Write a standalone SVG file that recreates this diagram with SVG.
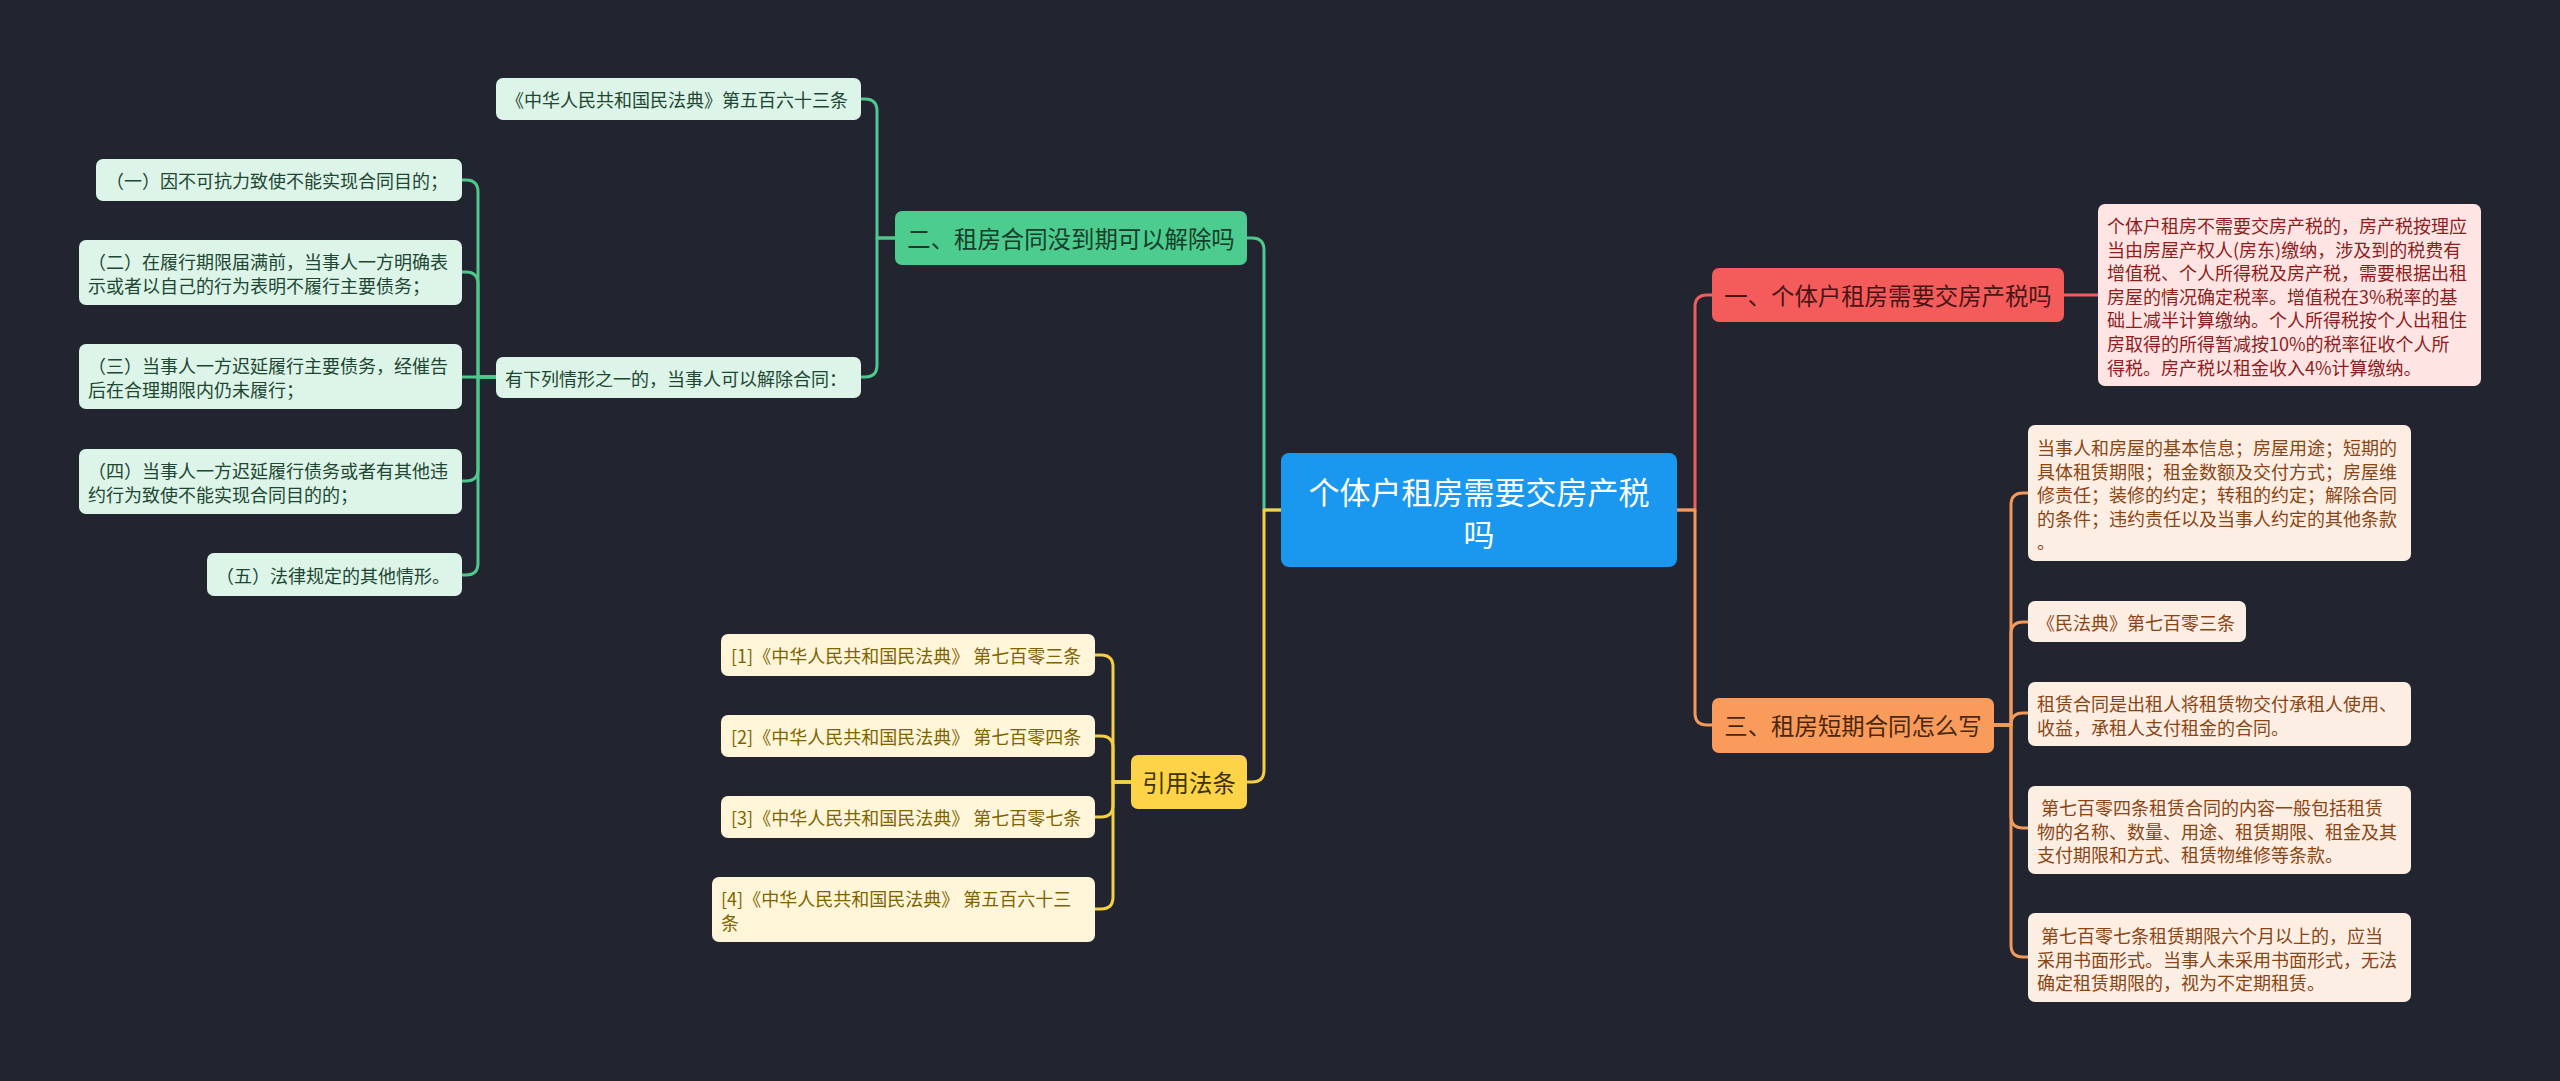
<svg xmlns="http://www.w3.org/2000/svg" width="2560" height="1081" viewBox="0 0 2560 1081">
<style>
text{font-family:"Noto Sans CJK SC","Noto Sans",sans-serif;dominant-baseline:central}
.c{fill:none;stroke-width:3;stroke-linecap:round;stroke-linejoin:round}
.cg{stroke:#4fc88e}.cy{stroke:#f5cf45}.cr{stroke:#ee5e5e}.co{stroke:#f19a5c}
.root rect{fill:#1a97ee}
.root text{fill:#ffffff;font-size:31px;text-anchor:middle}
.l1 text{font-size:23.4px;text-anchor:middle}
.red rect{fill:#f45c5c}.red text{fill:#4a1414}
.org rect{fill:#f99b5b}.org text{fill:#4a2610}
.grn rect{fill:#4ccc8e}.grn text{fill:#163d2a}
.yel rect{fill:#fdd447}.yel text{fill:#3e3200}
.d text{font-size:18px}
.dr rect{fill:#ffe4e4}.dr text{fill:#8c1e1e}
.do rect{fill:#fdeee3}.do text{fill:#8a4514}
.dg rect{fill:#dcf5e8}.dg text{fill:#1e4632}
.dy rect{fill:#fff6da}.dy text{fill:#7d6400}
</style>
<rect width="2560" height="1081" fill="#222530"/>
<g id="connectors">
<path class="c cg" d="M1282,510 H1264 V250 Q1264,238 1252,238 H1247"/>
<path class="c cy" d="M1282,510 H1264 V770 Q1264,782 1252,782 H1247"/>
<path class="c cr" d="M1677,510 H1695 V307 Q1695,295 1707,295 H1712"/>
<path class="c co" d="M1677,510 H1695 V713 Q1695,725 1707,725 H1712"/>
<path class="c cg" d="M895,238 H877 V111 Q877,99 865,99 H861"/>
<path class="c cg" d="M895,238 H877 V365 Q877,377 865,377 H861"/>
<path class="c cg" d="M496,377 H478 V192 Q478,180 466,180 H462"/>
<path class="c cg" d="M496,377 H478 V284 Q478,272 466,272 H462"/>
<path class="c cg" d="M496,377 H462"/>
<path class="c cg" d="M496,377 H478 V469 Q478,481 466,481 H462"/>
<path class="c cg" d="M496,377 H478 V563 Q478,575 466,575 H462"/>
<path class="c cy" d="M1131,782 H1113 V667 Q1113,655 1101,655 H1095"/>
<path class="c cy" d="M1131,782 H1113 V748 Q1113,736 1101,736 H1095"/>
<path class="c cy" d="M1131,782 H1113 V805 Q1113,817 1101,817 H1095"/>
<path class="c cy" d="M1131,782 H1113 V897 Q1113,909 1101,909 H1095"/>
<path class="c cr" d="M2064,295 H2098"/>
<path class="c co" d="M1994,725 H2011 V505 Q2011,493 2023,493 H2028"/>
<path class="c co" d="M1994,725 H2011 V634 Q2011,622 2023,622 H2028"/>
<path class="c co" d="M1994,725 H2011 Q2011,713 2023,713 H2028"/>
<path class="c co" d="M1994,725 H2011 V816 Q2011,828 2023,828 H2028"/>
<path class="c co" d="M1994,725 H2011 V945 Q2011,957 2023,957 H2028"/>
</g>
<g id="root" class="root">
<rect x="1281" y="453" width="396" height="114" rx="8"/>
<text x="1479" y="490">个体户租房需要交房产税</text>
<text x="1479" y="532">吗</text>
</g>
<g id="n1" class="l1 red">
<rect x="1712" y="268" width="352" height="54" rx="7"/>
<text x="1888" y="295">一、个体户租房需要交房产税吗</text>
</g>
<g id="n1a" class="d dr">
<rect x="2098" y="204" width="383" height="182" rx="7"/>
<text x="2107" y="225">个体户租房不需要交房产税的，房产税按理应</text>
<text x="2107" y="248.6">当由房屋产权人(房东)缴纳，涉及到的税费有</text>
<text x="2107" y="272.2">增值税、个人所得税及房产税，需要根据出租</text>
<text x="2107" y="295.8">房屋的情况确定税率。增值税在3%税率的基</text>
<text x="2107" y="319.4">础上减半计算缴纳。个人所得税按个人出租住</text>
<text x="2107" y="343">房取得的所得暂减按10%的税率征收个人所</text>
<text x="2107" y="366.6">得税。房产税以租金收入4%计算缴纳。</text>
</g>
<g id="n3" class="l1 org">
<rect x="1712" y="698" width="282" height="55" rx="7"/>
<text x="1853" y="725">三、租房短期合同怎么写</text>
</g>
<g id="n3a" class="d do">
<rect x="2028" y="425" width="383" height="136" rx="7"/>
<text x="2037" y="447">当事人和房屋的基本信息；房屋用途；短期的</text>
<text x="2037" y="470.5">具体租赁期限；租金数额及交付方式；房屋维</text>
<text x="2037" y="494">修责任；装修的约定；转租的约定；解除合同</text>
<text x="2037" y="517.5">的条件；违约责任以及当事人约定的其他条款</text>
<text x="2037" y="541">。</text>
</g>
<g id="n3b" class="d do">
<rect x="2028" y="601" width="218" height="41" rx="7"/>
<text x="2037" y="621.5">《民法典》第七百零三条</text>
</g>
<g id="n3c" class="d do">
<rect x="2028" y="682" width="383" height="64" rx="7"/>
<text x="2037" y="703">租赁合同是出租人将租赁物交付承租人使用、</text>
<text x="2037" y="726.5">收益，承租人支付租金的合同。</text>
</g>
<g id="n3d" class="d do">
<rect x="2028" y="786" width="383" height="88" rx="7"/>
<text x="2037" y="807" xml:space="preserve"> 第七百零四条租赁合同的内容一般包括租赁</text>
<text x="2037" y="830.5">物的名称、数量、用途、租赁期限、租金及其</text>
<text x="2037" y="854">支付期限和方式、租赁物维修等条款。</text>
</g>
<g id="n3e" class="d do">
<rect x="2028" y="913" width="383" height="89" rx="7"/>
<text x="2037" y="935" xml:space="preserve"> 第七百零七条租赁期限六个月以上的，应当</text>
<text x="2037" y="958.5">采用书面形式。当事人未采用书面形式，无法</text>
<text x="2037" y="982">确定租赁期限的，视为不定期租赁。</text>
</g>
<g id="n2" class="l1 grn">
<rect x="895" y="211" width="352" height="54" rx="7"/>
<text x="1071" y="238">二、租房合同没到期可以解除吗</text>
</g>
<g id="n2a" class="d dg">
<rect x="496" y="78" width="365" height="42" rx="7"/>
<text x="506" y="99">《中华人民共和国民法典》第五百六十三条</text>
</g>
<g id="n2b" class="d dg">
<rect x="496" y="357" width="365" height="41" rx="7"/>
<text x="505" y="377.5">有下列情形之一的，当事人可以解除合同：</text>
</g>
<g id="n2b1" class="d dg">
<rect x="96" y="159" width="366" height="42" rx="7"/>
<text x="106" y="180">（一）因不可抗力致使不能实现合同目的；</text>
</g>
<g id="n2b2" class="d dg">
<rect x="79" y="240" width="383" height="65" rx="7"/>
<text x="88" y="261">（二）在履行期限届满前，当事人一方明确表</text>
<text x="88" y="285">示或者以自己的行为表明不履行主要债务；</text>
</g>
<g id="n2b3" class="d dg">
<rect x="79" y="344" width="383" height="65" rx="7"/>
<text x="88" y="365">（三）当事人一方迟延履行主要债务，经催告</text>
<text x="88" y="389">后在合理期限内仍未履行；</text>
</g>
<g id="n2b4" class="d dg">
<rect x="79" y="449" width="383" height="65" rx="7"/>
<text x="88" y="470">（四）当事人一方迟延履行债务或者有其他违</text>
<text x="88" y="494">约行为致使不能实现合同目的的；</text>
</g>
<g id="n2b5" class="d dg">
<rect x="207" y="553" width="255" height="43" rx="7"/>
<text x="216" y="574.5">（五）法律规定的其他情形。</text>
</g>
<g id="n4" class="l1 yel">
<rect x="1131" y="755" width="116" height="54" rx="7"/>
<text x="1189" y="782">引用法条</text>
</g>
<g id="n4a" class="d dy">
<rect x="721" y="634" width="374" height="42" rx="7"/>
<text x="731" y="655">[1]《中华人民共和国民法典》 第七百零三条</text>
</g>
<g id="n4b" class="d dy">
<rect x="721" y="715" width="374" height="42" rx="7"/>
<text x="731" y="736">[2]《中华人民共和国民法典》 第七百零四条</text>
</g>
<g id="n4c" class="d dy">
<rect x="721" y="796" width="374" height="42" rx="7"/>
<text x="731" y="817">[3]《中华人民共和国民法典》 第七百零七条</text>
</g>
<g id="n4d" class="d dy">
<rect x="712" y="877" width="383" height="65" rx="7"/>
<text x="721" y="898">[4]《中华人民共和国民法典》 第五百六十三</text>
<text x="721" y="922">条</text>
</g>
</svg>
